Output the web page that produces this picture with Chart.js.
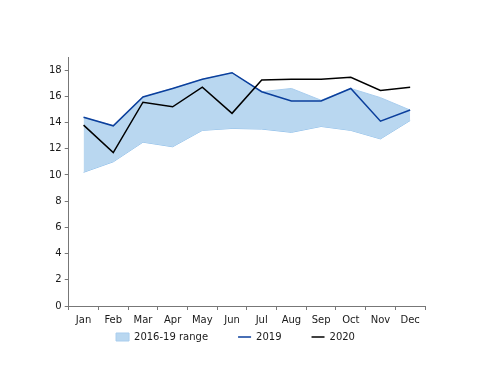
<!DOCTYPE html>
<html>
<head>
<meta charset="utf-8">
<script src="https://cdn.jsdelivr.net/npm/chart.js@4"></script>
<style>
  body { margin: 0; background: #fff; }
</style>
</head>
<body>
<canvas id="rangeChart" width="500" height="386"></canvas>
<script>
const months = ['Jan', 'Feb', 'Mar', 'Apr', 'May', 'Jun', 'Jul', 'Aug', 'Sep', 'Oct', 'Nov', 'Dec'];
const rangeLow = [10.2, 11.0, 12.5, 12.15, 13.4, 13.55, 13.5, 13.25, 13.7, 13.4, 12.75, 14.15];
const rangeHigh = [14.4, 13.75, 15.95, 16.6, 17.3, 17.8, 16.35, 16.6, 15.7, 16.6, 15.9, 14.95];
const y2019 = [14.4, 13.75, 15.95, 16.6, 17.3, 17.8, 16.35, 15.65, 15.65, 16.6, 14.1, 14.95];
const y2020 = [13.8, 11.7, 15.55, 15.2, 16.7, 14.7, 17.25, 17.3, 17.3, 17.45, 16.45, 16.7];
const yTicks = [0, 2, 4, 6, 8, 10, 12, 14, 16, 18];

// legend items need wide horizontal gaps but sit close under the axis
const legendShift = {
    id: 'legendShift',
    afterLayout: function (chart) {
        chart.legend.top -= 28;
        chart.legend.bottom -= 28;
    }
};

document.addEventListener('DOMContentLoaded', function () {
    Chart.defaults.font.family = '"DejaVu Sans", Verdana, sans-serif';
    Chart.defaults.font.size = 10;
    Chart.defaults.color = '#1a1a1a';

    const ctx = document.getElementById('rangeChart').getContext('2d');
    new Chart(ctx, {
        type: 'line',
        data: {
            labels: months,
            datasets: [{
                label: 'low',
                data: rangeLow,
                borderColor: '#8cbde9',
                borderWidth: 1,
                pointRadius: 0,
                fill: false,
                tension: 0,
                order: 4
            }, {
                label: '2016-19 range',
                data: rangeHigh,
                borderColor: '#a9cdee',
                backgroundColor: '#b9d7f0',
                borderWidth: 1,
                pointRadius: 0,
                pointStyle: 'rect',
                fill: '-1',
                tension: 0,
                order: 3
            }, {
                label: '2019',
                data: y2019,
                borderColor: '#0b3f9c',
                backgroundColor: '#0b3f9c',
                borderWidth: 1.5,
                pointRadius: 0,
                pointStyle: 'line',
                fill: false,
                tension: 0,
                order: 2
            }, {
                label: '2020',
                data: y2020,
                borderColor: '#000000',
                backgroundColor: '#000000',
                borderWidth: 1.5,
                pointRadius: 0,
                pointStyle: 'line',
                fill: false,
                tension: 0,
                order: 1
            }]
        },
        options: {
            responsive: false,
            animation: false,
            layout: { padding: { left: 46, right: 75, top: 57, bottom: 6 } },
            plugins: {
                tooltip: { enabled: false },
                legend: {
                    position: 'bottom',
                    labels: {
                        usePointStyle: true,
                        pointStyleWidth: 13,
                        boxHeight: 8,
                        padding: 30,
                        sort: function (a, b) { return a.datasetIndex - b.datasetIndex; },
                        filter: function (item) { return item.text !== 'low'; }
                    }
                }
            },
            scales: {
                x: {
                    offset: true,
                    grid: { display: true, offset: true, drawOnChartArea: false, tickLength: 4, color: '#777' },
                    border: { color: '#777' },
                    ticks: { padding: 4 }
                },
                y: {
                    min: 0,
                    max: 19,
                    afterBuildTicks: function (axis) {
                        axis.ticks = yTicks.map(function (v) { return { value: v }; });
                    },
                    grid: { display: true, drawOnChartArea: false, tickLength: 4, color: '#777' },
                    border: { color: '#777' },
                    ticks: { padding: 3 }
                }
            }
        },
        plugins: [legendShift]
    });
});
</script>
</body>
</html>
